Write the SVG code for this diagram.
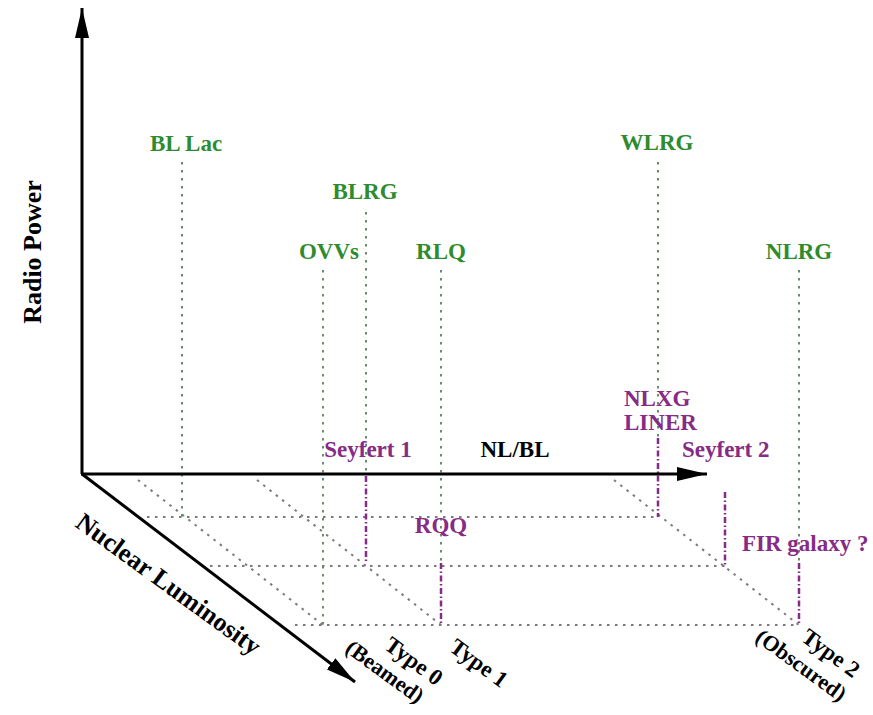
<svg xmlns="http://www.w3.org/2000/svg" width="873" height="715" viewBox="0 0 873 715">
<defs>
<style>
.lbl{font-family:"Liberation Serif","Times New Roman",serif;font-weight:bold;font-size:23px}
.g{fill:#2e8b2e}
.p{fill:#862b86}
.k{fill:#000}
.axis{stroke:#000;stroke-width:3;fill:none}
.gd{stroke:#6a8c6a;stroke-width:2;stroke-dasharray:2.5 5.5;fill:none}
.hd{stroke:#7a7a7a;stroke-width:2;stroke-dasharray:2.5 5.5;fill:none}
.pd{stroke:#862b86;stroke-width:2.5;stroke-dasharray:6 2.5 1.5 2.5;fill:none}
</style>
<marker id="ah" viewBox="0 0 30 14" refX="30" refY="7" markerWidth="30" markerHeight="14" markerUnits="userSpaceOnUse" orient="auto">
<path d="M0,0 L30,7 L0,14 Z" fill="#000"/>
</marker>
</defs>
<rect width="873" height="715" fill="#fff"/>
<g id="connectors">
<line class="hd" x1="147" y1="517" x2="658" y2="517"/>
<line class="hd" x1="210" y1="566" x2="725" y2="566"/>
<line class="hd" x1="295" y1="625" x2="799" y2="625"/>
<line class="hd" x1="138" y1="480" x2="323" y2="625"/>
<line class="hd" x1="257" y1="480" x2="441" y2="625"/>
<line class="hd" x1="614" y1="480" x2="799" y2="625"/>
<line class="gd" x1="182" y1="162" x2="182" y2="517"/>
<line class="gd" x1="366" y1="212" x2="366" y2="474"/>
<line class="gd" x1="323" y1="270" x2="323" y2="625"/>
<line class="gd" x1="441" y1="270" x2="441" y2="563"/>
<line class="gd" x1="658" y1="162" x2="658" y2="438"/>
<line class="gd" x1="799" y1="270" x2="799" y2="563"/>
<line class="pd" x1="366" y1="476" x2="366" y2="563"/>
<line class="pd" x1="441" y1="563" x2="441" y2="625"/>
<line class="pd" x1="658" y1="438" x2="658" y2="517"/>
<line class="pd" x1="725" y1="492" x2="725" y2="565"/>
<line class="pd" x1="799" y1="563" x2="799" y2="625"/>
<line class="axis" x1="82" y1="474" x2="82" y2="8" marker-end="url(#ah)"/>
<line class="axis" x1="81" y1="474" x2="707" y2="474" marker-end="url(#ah)"/>
<line class="axis" x1="82" y1="474" x2="355" y2="682" marker-end="url(#ah)"/>
</g>
<g id="axis-labels">
<text class="lbl k" style="font-size:26px" text-anchor="middle" transform="translate(41,252) rotate(-90)">Radio Power</text>
<text class="lbl k" style="font-size:26px" transform="translate(74,526) rotate(36)">Nuclear Luminosity</text>
<text class="lbl k" x="515" y="457" text-anchor="middle">NL/BL</text>
</g>
<g id="n-bllac"><text class="lbl g" x="186" y="151" text-anchor="middle">BL Lac</text></g>
<g id="n-blrg"><text class="lbl g" x="365" y="199" text-anchor="middle">BLRG</text></g>
<g id="n-ovvs"><text class="lbl g" x="329" y="259" text-anchor="middle">OVVs</text></g>
<g id="n-rlq"><text class="lbl g" x="441" y="259" text-anchor="middle">RLQ</text></g>
<g id="n-wlrg"><text class="lbl g" x="657" y="150" text-anchor="middle">WLRG</text></g>
<g id="n-nlrg"><text class="lbl g" x="799" y="259" text-anchor="middle">NLRG</text></g>
<g id="n-seyfert1"><text class="lbl p" x="368" y="457" text-anchor="middle">Seyfert 1</text></g>
<g id="n-rqq"><text class="lbl p" x="441" y="533" text-anchor="middle">RQQ</text></g>
<g id="n-nlxg"><text class="lbl p" x="624" y="406">NLXG</text><text class="lbl p" x="624" y="430">LINER</text></g>
<g id="n-seyfert2"><text class="lbl p" x="682" y="457">Seyfert 2</text></g>
<g id="n-fir"><text class="lbl p" x="742" y="551">FIR galaxy ?</text></g>
<g id="type-labels">
<text class="lbl k" transform="translate(383,648) rotate(36)">Type 0</text>
<text class="lbl k" style="font-size:22px" transform="translate(344,651) rotate(36)">(Beamed)</text>
<text class="lbl k" transform="translate(448,650) rotate(36)">Type 1</text>
<text class="lbl k" transform="translate(800,640) rotate(36)">Type 2</text>
<text class="lbl k" style="font-size:22px" transform="translate(754,640) rotate(36)">(Obscured)</text>
</g>
</svg>
